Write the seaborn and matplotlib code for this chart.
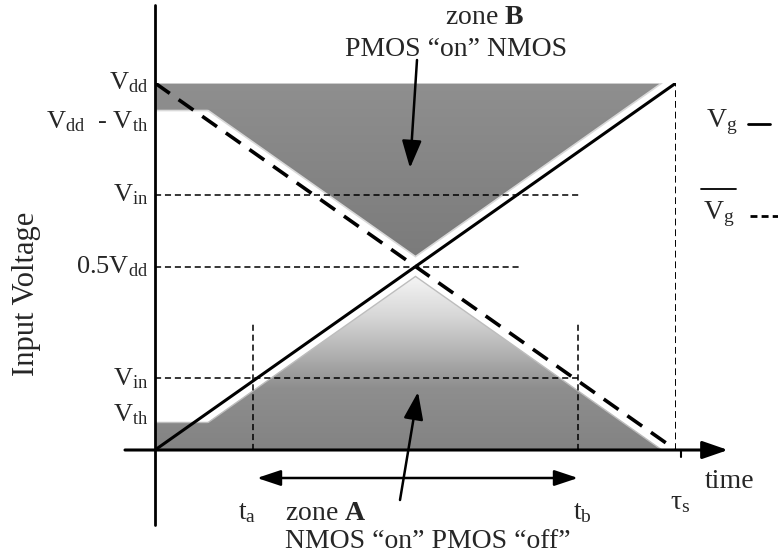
import numpy as np
import pandas as pd
import matplotlib
matplotlib.use("Agg")
import matplotlib.pyplot as plt
import seaborn as sns
from matplotlib.patches import Polygon

sns.set_theme(style="white")
plt.rcParams['font.family'] = ['Liberation Serif', 'DejaVu Serif']
plt.rcParams['mathtext.fontset'] = 'custom'
plt.rcParams['mathtext.rm'] = 'Liberation Serif'
plt.rcParams['mathtext.it'] = 'Liberation Serif'
plt.rcParams['mathtext.bf'] = 'Liberation Serif:bold'

# ---- data (normalised: time in units of tau_s, voltage in units of Vdd) ----
time = [0.0, 1.0]
vg = [0.0, 1.0]            # V_g (solid)
vg_bar = [1.0, 0.0]        # complement of V_g (dashed)
v_th = 0.075
v_in_low = 0.195
v_in_high = 0.695
v_half = 0.5
t_a = 0.188
t_b = 0.812
gap = 0.027

ytick_vals = [1.0, 1.0 - v_th, v_in_high, v_half, v_in_low, v_th]
ytick_labels = [r'V$_{\rm dd}$', r'V$_{\rm dd}$  - V$_{\rm th}$', r'V$_{\rm in}$',
                r'0.5V$_{\rm dd}$', r'V$_{\rm in}$', r'V$_{\rm th}$']

W, H = 778, 559
fig = plt.figure(figsize=(W / 100, H / 100), dpi=100)
x0, y0, x1, y1 = 155, 450, 676, 83
ax = fig.add_axes([x0 / W, (H - y0) / H, (x1 - x0) / W, (y0 - y1) / H])
ax.set_xlim(0, 1)
ax.set_ylim(0, 1)
ax.axis('off')

def px(xp, yp):
    return ((xp - x0) / (x1 - x0), (y0 - yp) / (y0 - y1))

# ---- zone B (upper, grey) ----
tt = np.linspace(0, 1, 401)
low_b = np.maximum(np.minimum(1 - v_th, 1 - tt + gap), tt + gap)
mask = low_b <= 1
tb_ = tt[mask]
polyB = np.column_stack([np.r_[tb_, tb_[::-1]], np.r_[low_b[mask], np.ones(mask.sum())]])
grad = np.linspace(0, 1, 256).reshape(-1, 1)
imB = ax.imshow(grad, extent=[0, 1, 0.5, 1], origin='lower', aspect='auto',
                cmap=matplotlib.colors.LinearSegmentedColormap.from_list('b', ['#7a7a7a', '#8f8f8f']),
                zorder=1)
pB = Polygon(polyB, closed=True, facecolor='none', edgecolor='#d9d9d9', lw=1.2, zorder=1.5)
ax.add_patch(pB)
imB.set_clip_path(pB)

# ---- zone A (lower, gradient white->grey) ----
up_a = np.minimum(np.maximum(v_th, tt - gap), 1 - tt - gap)
mask = up_a >= 0
ta_ = tt[mask]
polyA = np.column_stack([np.r_[ta_, ta_[::-1]], np.r_[up_a[mask], np.zeros(mask.sum())]])
cmapA = matplotlib.colors.LinearSegmentedColormap.from_list(
    'a', [(0, '#838383'), (0.35, '#8e8e8e'), (0.75, '#d6d6d6'), (1.0, '#f7f7f7')])
imA = ax.imshow(grad, extent=[0, 1, 0, 0.48], origin='lower', aspect='auto', cmap=cmapA, zorder=1)
pA = Polygon(polyA, closed=True, facecolor='none', edgecolor='#bdbdbd', lw=1.0, zorder=1.5)
ax.add_patch(pA)
imA.set_clip_path(pA)

# ---- guide dashed lines ----
dash = (0, (4, 2.5))
ax.plot([0, 0.82], [v_in_high, v_in_high], ls=dash, color='black', lw=1.1, zorder=2)
ax.plot([0, 0.7], [v_half, v_half], ls=dash, color='black', lw=1.1, zorder=2)
ax.plot([0, t_b], [v_in_low, v_in_low], ls=dash, color='black', lw=1.1, zorder=2)
ax.plot([t_a, t_a], [0, 0.35], ls=dash, color='black', lw=1.1, zorder=2)
ax.plot([t_b, t_b], [0, 0.35], ls=dash, color='black', lw=1.1, zorder=2)
ax.plot([1, 1], [0, 1.01], ls=(0, (3.5, 2)), color='black', lw=1.4, zorder=2)

# ---- signal lines ----
df = pd.DataFrame({'t': time, 'vg': vg, 'vgbar': vg_bar})
sns.lineplot(data=df, x='t', y='vg', ax=ax, color='black', lw=2.2, zorder=4)
sns.lineplot(data=df, x='t', y='vgbar', ax=ax, color='black', lw=2.6,
             linestyle=(0, (5, 3)), zorder=4)
ax.axis('off')
ax.set_xlim(0, 1)
ax.set_ylim(0, 1)

# ---- axes lines ----
xa, _ = px(125, 450)
xb, _ = px(728, 450)
ax.annotate('', xy=(xb, 0), xytext=(xa, 0), annotation_clip=False,
            arrowprops=dict(arrowstyle='-|>,head_length=1.3,head_width=0.45', color='black', lw=2.2,
                            shrinkA=0, shrinkB=0), zorder=5)
_, ytop = px(155, 5)
_, ybot = px(155, 525)
ax.plot([0, 0], [ybot, ytop], color='black', lw=2.0, clip_on=False, zorder=5)
ax.plot([1.01, 1.01], [0, -0.018], color='black', lw=1.5, clip_on=False, zorder=5)

# ---- y tick labels ----
fs = 20
for v, lab in zip(ytick_vals, ytick_labels):
    yy = v
    if abs(v - (1 - v_th)) < 1e-9:
        yy = px(0, 122)[1]
    elif abs(v - v_th) < 1e-9:
        yy = px(0, 415)[1]
    ax.text(-0.012, yy, lab, ha='right', va='center', fontsize=fs - 1, clip_on=False)

ax.text(*px(27, 294), 'Input Voltage', rotation=90, ha='center', va='center', fontsize=22)

# ---- x labels ----
ax.text(*px(247, 513), r't$_{\rm a}$', ha='center', va='center', fontsize=fs)
ax.text(*px(582, 513), r't$_{\rm b}$', ha='center', va='center', fontsize=fs)
ax.text(*px(680, 503), r'$\tau_{\rm s}$', ha='center', va='center', fontsize=fs)
ax.text(*px(730, 482), 'time', ha='center', va='center', fontsize=fs)

# ---- zone annotations ----
ax.text(*px(285, 513), r'zone $\mathbf{A}$', ha='left', va='center', fontsize=fs)
ax.text(*px(285, 541), 'NMOS \u201con\u201d PMOS \u201coff\u201d', ha='left', va='center', fontsize=fs)
ax.text(*px(485, 17), r'zone $\mathbf{B}$', ha='center', va='center', fontsize=fs)
ax.text(*px(456, 50), 'PMOS \u201con\u201d NMOS', ha='center', va='center', fontsize=fs)

ax.annotate('', xy=px(410, 168), xytext=px(417, 60), annotation_clip=False,
            arrowprops=dict(arrowstyle='-|>,head_length=1.4,head_width=0.5', color='black', lw=1.8,
                            shrinkA=0, shrinkB=0), zorder=6)
ax.annotate('', xy=px(418, 392), xytext=px(400, 500), annotation_clip=False,
            arrowprops=dict(arrowstyle='-|>,head_length=1.4,head_width=0.5', color='black', lw=1.8,
                            shrinkA=0, shrinkB=0), zorder=6)
ax.annotate('', xy=px(578, 478), xytext=px(257, 478), annotation_clip=False,
            arrowprops=dict(arrowstyle='<|-|>,head_length=1.2,head_width=0.4', color='black', lw=1.8,
                            shrinkA=0, shrinkB=0), zorder=6)

# ---- legend ----
ax.text(*px(722, 122), r'V$_{\rm g}$', ha='center', va='center', fontsize=fs)
ax.plot(*zip(px(748, 124), px(770, 124)), color='black', lw=2.0, clip_on=False)
ax.text(*px(719, 214), r'V$_{\rm g}$', ha='center', va='center', fontsize=fs)
ax.plot(*zip(px(701, 189), px(736, 189)), color='black', lw=1.3, clip_on=False)
ax.plot(*zip(px(750, 216), px(778, 216)), color='black', lw=2.0, ls=(0, (2.5, 1.5)), clip_on=False)

fig.savefig('out.png', dpi=100, facecolor='white')
